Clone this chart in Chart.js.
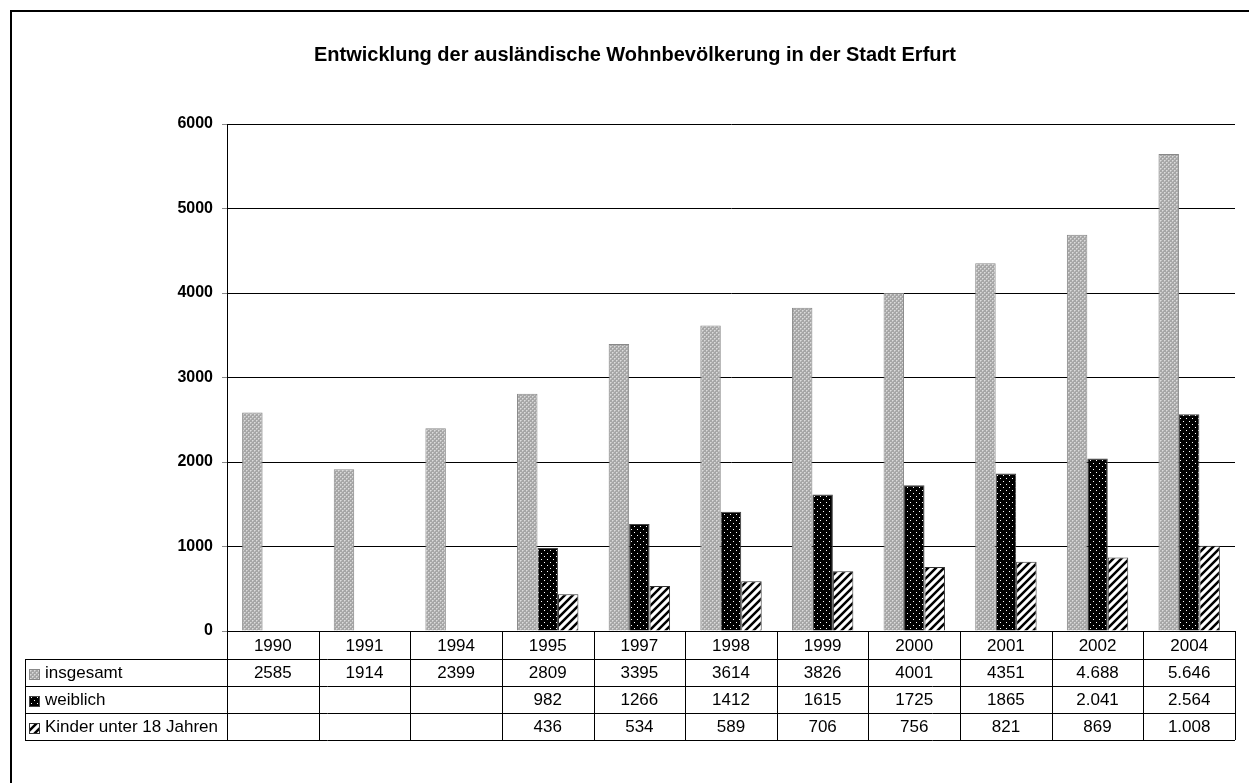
<!DOCTYPE html>
<html>
<head>
<meta charset="utf-8">
<script src="https://cdn.jsdelivr.net/npm/chart.js@4.4.1/dist/chart.umd.min.js"></script>
<style>
  body { margin: 0; background: #fff; }
  #wrap { width: 1249px; height: 783px; }
</style>
</head>
<body>
<div id="wrap"><canvas id="chart" width="1249" height="783"></canvas></div>
<script>
// Data
const years = ['1990', '1991', '1994', '1995', '1997', '1998', '1999', '2000', '2001', '2002', '2004'];
const insgesamt = [2585, 1914, 2399, 2809, 3395, 3614, 3826, 4001, 4351, 4688, 5646];
const weiblich = [null, null, null, 982, 1266, 1412, 1615, 1725, 1865, 2041, 2564];
const kinder = [null, null, null, 436, 534, 589, 706, 756, 821, 869, 1008];

// table text as printed
const insgesamtText = ['2585', '1914', '2399', '2809', '3395', '3614', '3826', '4001', '4351', '4.688', '5.646'];
const weiblichText = ['', '', '', '982', '1266', '1412', '1615', '1725', '1865', '2.041', '2.564'];
const kinderText = ['', '', '', '436', '534', '589', '706', '756', '821', '869', '1.008'];
const seriesNames = ['insgesamt', 'weiblich', 'Kinder unter 18 Jahren'];

const FONT = '"Liberation Sans", Arial, sans-serif';

// Fill patterns
function makePattern(size, draw) {
  const c = document.createElement('canvas');
  c.width = size; c.height = size;
  const g = c.getContext('2d');
  draw(g);
  return document.getElementById('chart').getContext('2d').createPattern(c, 'repeat');
}

const grayPattern = makePattern(4, g => {
  g.fillStyle = '#a6a6a6';
  g.fillRect(0, 0, 4, 4);
  g.fillStyle = '#dcdcdc';
  g.fillRect(0, 0, 1, 1);
  g.fillRect(2, 2, 1, 1);
  g.fillStyle = '#c4c4c4';
  g.fillRect(1, 0, 1, 1); g.fillRect(0, 1, 1, 1);
  g.fillRect(3, 2, 1, 1); g.fillRect(2, 3, 1, 1);
});

const dotPattern = makePattern(6, g => {
  g.fillStyle = '#000';
  g.fillRect(0, 0, 6, 6);
  g.fillStyle = '#fff';
  g.fillRect(1, 1, 1, 1);
  g.fillRect(4, 4, 1, 1);
});

const stripePattern = makePattern(8, g => {
  g.fillStyle = '#fff';
  g.fillRect(0, 0, 8, 8);
  g.strokeStyle = '#000';
  g.lineWidth = 2.5;
  g.beginPath();
  g.moveTo(-2, 10); g.lineTo(10, -2);
  g.moveTo(-6, 6); g.lineTo(6, -6);
  g.moveTo(2, 14); g.lineTo(14, 2);
  g.stroke();
});

const fills = [grayPattern, dotPattern, stripePattern];
const borders = ['#888', '#444', '#333'];

// Table rows below the plot
const rowTops = [631, 659, 686, 713, 740];
const tableLeft = 25;

const decorPlugin = {
  id: 'decor',
  beforeDraw(chart) {
    const ctx = chart.ctx;
    ctx.save();
    ctx.fillStyle = '#fff';
    ctx.fillRect(0, 0, chart.width, chart.height);
    ctx.restore();
  },
  afterDraw(chart) {
    const ctx = chart.ctx;
    const x = chart.scales.x;
    const area = chart.chartArea;
    const step = (area.right - area.left) / years.length;
    ctx.save();

    // outer frame
    ctx.strokeStyle = '#000';
    ctx.lineWidth = 2;
    ctx.strokeRect(11, 11, 1400, 1000);

    // title
    ctx.fillStyle = '#000';
    ctx.font = 'bold 20px ' + FONT;
    ctx.textAlign = 'center';
    ctx.textBaseline = 'alphabetic';
    ctx.fillText('Entwicklung der ausländische Wohnbevölkerung in der Stadt Erfurt', 635, 61);

    // table grid
    ctx.lineWidth = 1;
    ctx.strokeStyle = '#000';
    ctx.beginPath();
    rowTops.forEach((y, i) => {
      const left = i === 0 ? area.left : tableLeft;
      ctx.moveTo(left, y + 0.5);
      ctx.lineTo(area.right, y + 0.5);
    });
    ctx.moveTo(tableLeft + 0.5, rowTops[1]);
    ctx.lineTo(tableLeft + 0.5, rowTops[4]);
    for (let i = 0; i <= years.length; i++) {
      const px = Math.round(area.left + i * step) + 0.5;
      ctx.moveTo(px, rowTops[0]);
      ctx.lineTo(px, rowTops[4]);
    }
    ctx.stroke();

    // cell text
    ctx.font = '17px ' + FONT;
    ctx.textAlign = 'center';
    ctx.textBaseline = 'middle';
    const rows = [years, insgesamtText, weiblichText, kinderText];
    rows.forEach((row, r) => {
      const cy = (rowTops[r] + rowTops[r + 1]) / 2 + 1;
      row.forEach((t, i) => {
        ctx.fillText(t, x.getPixelForValue(i), cy);
      });
    });

    // legend keys + names
    ctx.textAlign = 'left';
    seriesNames.forEach((name, s) => {
      const cy = (rowTops[s + 1] + rowTops[s + 2]) / 2 + 1;
      const ky = Math.round(cy - 5);
      ctx.fillStyle = fills[s];
      ctx.fillRect(29, ky, 11, 11);
      ctx.strokeStyle = borders[s];
      ctx.strokeRect(29.5, ky + 0.5, 10, 10);
      ctx.fillStyle = '#000';
      ctx.fillText(name, 45, cy);
    });
    ctx.restore();
  }
};

const datasets = [insgesamt, weiblich, kinder].map((d, s) => ({
  label: seriesNames[s],
  data: d,
  backgroundColor: fills[s],
  borderColor: borders[s],
  borderWidth: 1,
  borderSkipped: 'start',
  categoryPercentage: 0.67,
  barPercentage: 1.0
}));

new Chart(document.getElementById('chart'), {
  type: 'bar',
  data: { labels: years, datasets: datasets },
  options: {
    responsive: false,
    animation: false,
    layout: { padding: { left: 0, right: 14, top: 124, bottom: 152 } },
    plugins: {
      legend: { display: false },
      title: { display: false },
      tooltip: { enabled: false }
    },
    scales: {
      x: { display: false },
      y: {
        min: 0,
        max: 6000,
        afterFit: scale => { scale.width = 227; },
        ticks: {
          stepSize: 1000,
          color: '#000',
          padding: 9,
          font: { family: FONT, size: 16, weight: 'bold' },
          callback: v => String(v)
        },
        grid: { color: '#000', lineWidth: 1, tickLength: 5, tickColor: '#888' },
        border: { color: '#000', width: 1 }
      }
    }
  },
  plugins: [decorPlugin]
});
</script>
</body>
</html>
